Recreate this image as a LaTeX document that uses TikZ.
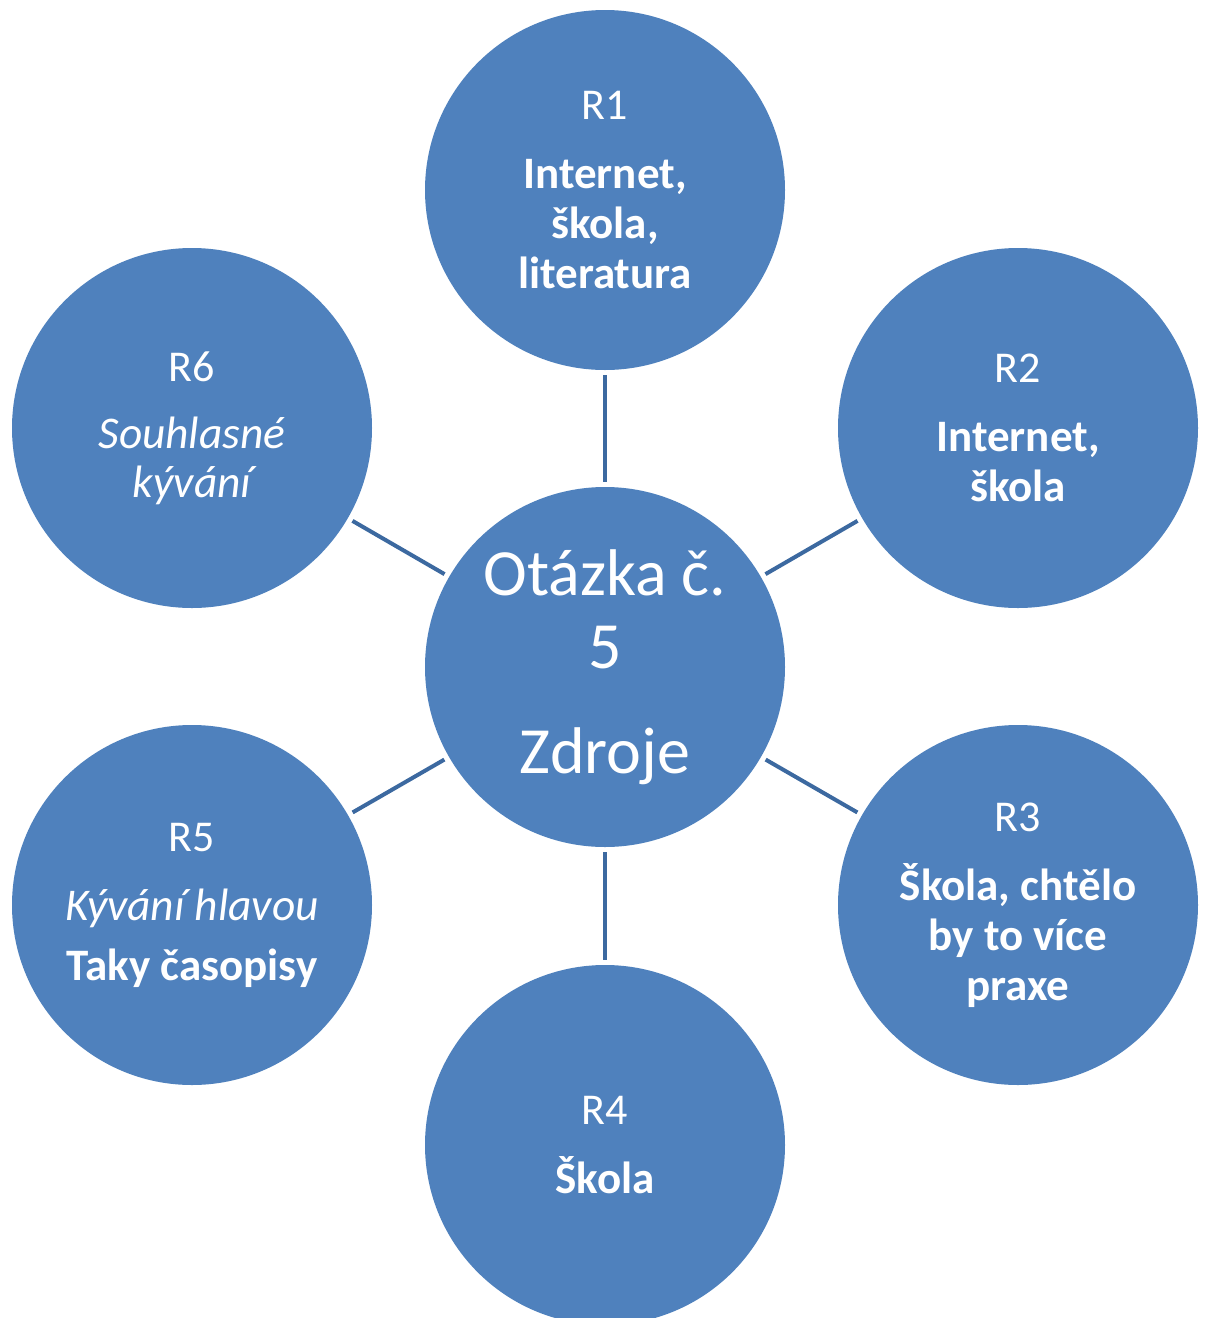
\documentclass[tikz,border=0pt]{standalone}
\usepackage{fontspec}
\setmainfont{Carlito}
\usepackage{xcolor}
\definecolor{discblue}{HTML}{4F81BD}
\definecolor{spokeblue}{HTML}{3C69A0}
\tikzset{
  disc/.style  = {circle, fill=discblue, text=white, minimum size=180pt,
                  inner sep=0pt, align=center,
                  font=\fontsize{22}{25}\selectfont},
  hub/.style   = {disc, font=\fontsize{33}{36.5}\selectfont},
  spoke/.style = {draw=spokeblue, line width=2pt,
                  shorten >=2.5pt, shorten <=2.5pt},
}
\newcommand{\ans}[1]{{\bfseries\fontsize{22.5}{25}\selectfont #1}}
\newcommand{\gest}[1]{{\itshape\fontsize{22.7}{25}\selectfont #1}}

\begin{document}
\begin{tikzpicture}[x=0.5pt, y=-0.5pt]
    \useasboundingbox (0,0) rectangle (1205,1318);

    \node[hub] (q5) at (605,667) {Otázka č.\\5\\[16pt]Zdroje};

    \node[disc] (r1) at (605,190)  {R1\\[9.5pt]\ans{Internet,}\\\ans{škola,}\\\ans{literatura}};
    \node[disc] (r2) at (1018,428) {R2\\[9.5pt]\ans{Internet,}\\\ans{škola}};
    \node[disc] (r3) at (1018,905) {R3\\[9.5pt]\ans{Škola, chtělo}\\\ans{by to více}\\\ans{praxe}};
    \node[disc] (r4) at (605,1145) {R4\\[9.5pt]\ans{Škola}};
    \node[disc] (r5) at (192,905)  {R5\\[9.5pt]\gest{Kývání hlavou}\\[5pt]\ans{Taky časopisy}};
    \node[disc] (r6) at (192,428)  {R6\\[8.5pt]\gest{Souhlasné}\\[-0.5pt]\gest{kývání}};

    \draw[spoke] (q5) -- (r1);
    \draw[spoke] (q5) -- (r2);
    \draw[spoke] (q5) -- (r3);
    \draw[spoke] (q5) -- (r4);
    \draw[spoke] (q5) -- (r5);
    \draw[spoke] (q5) -- (r6);
  \end{tikzpicture}
\end{document}
